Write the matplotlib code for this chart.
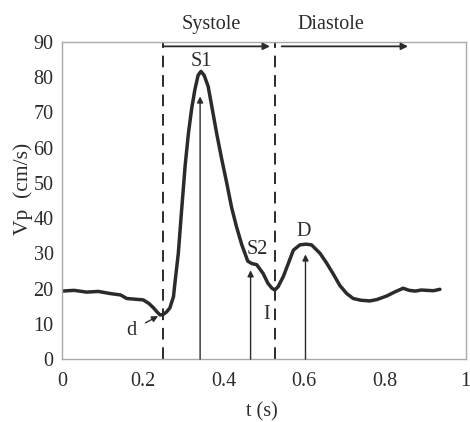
import matplotlib
matplotlib.use("Agg")
import matplotlib.pyplot as plt

# velocity curve
t = [0, 0.03, 0.061, 0.09, 0.119, 0.145, 0.16, 0.18, 0.201, 0.215, 0.226, 0.236,
     0.243, 0.251, 0.259, 0.267, 0.276, 0.28, 0.288, 0.296, 0.305, 0.313, 0.321,
     0.329, 0.337, 0.344, 0.352, 0.362, 0.372, 0.383, 0.395, 0.408, 0.42, 0.432,
     0.445, 0.46, 0.47, 0.482, 0.498, 0.51, 0.52, 0.527, 0.535, 0.548, 0.56, 0.573,
     0.589, 0.604, 0.618, 0.639, 0.655, 0.671, 0.688, 0.705, 0.721, 0.74, 0.762,
     0.78, 0.804, 0.825, 0.845, 0.86, 0.875, 0.89, 0.903, 0.92, 0.936]
vp = [19.3, 19.5, 19.0, 19.2, 18.6, 18.2, 17.2, 17.0, 16.8, 15.8, 14.6, 13.3,
      12.5, 12.7, 13.4, 14.5, 17.7, 22, 30, 42, 55, 64, 71,
      76.4, 80.5, 81.6, 80.5, 77.3, 71, 64, 57, 49.9, 43, 37.6,
      32.5, 27.8, 27.1, 26.8, 24.3, 21.5, 20.1, 19.6, 20.5, 23.4, 27, 30.9,
      32.4, 32.6, 32.4, 30, 27.3, 24.3, 20.9, 18.6, 17.2, 16.7, 16.5,
      16.9, 17.9, 19.1, 20.1, 19.5, 19.3, 19.6, 19.5, 19.4, 19.8]

phase_t = [0.251, 0.528]          # systole / diastole borders
peak_names = ["S1", "S2", "D"]
peak_t = [0.342, 0.467, 0.603]
peak_tip = [74.5, 25.2, 29.7]
peak_label = [(0.344, 84.4), (0.484, 31.1), (0.599, 36.3)]

x_ticks = [0, 0.2, 0.4, 0.6, 0.8, 1]
x_tick_labels = ["0", "0.2", "0.4", "0.6", "0.8", "1"]
y_ticks = list(range(0, 91, 10))

plt.rcParams['font.family'] = ['Liberation Serif', 'DejaVu Serif']
fs = 14.5

fig = plt.figure(figsize=(4.7, 4.22), dpi=100)
ax = fig.add_axes([0.132, 0.149, 0.859, 0.752])
ax.set_xlim(0, 1)
ax.set_ylim(0, 90)

ink = "#2b2b2b"
ax.plot(t, vp, color=ink, lw=2.5, solid_capstyle='round')

for x in phase_t:
    ax.plot([x, x], [0, 90], color=ink, lw=1.4, ls=(0, (6, 4)))

arrow = dict(arrowstyle='-|>', color=ink, lw=1.3, mutation_scale=10, shrinkA=0, shrinkB=0)
ax.annotate("", xy=(0.515, 88.7), xytext=(phase_t[0], 88.7), arrowprops=arrow)
ax.annotate("", xy=(0.857, 88.7), xytext=(0.544, 88.7), arrowprops=arrow)
ax.text(0.369, 94.8, "Systole", ha='center', va='center', fontsize=fs, color=ink)
ax.text(0.667, 94.8, "Diastole", ha='center', va='center', fontsize=fs, color=ink)

thin = dict(arrowstyle='-|>', color=ink, lw=1.0, mutation_scale=9, shrinkA=0, shrinkB=0)
for name, x, tip, (lx, ly) in zip(peak_names, peak_t, peak_tip, peak_label):
    ax.annotate("", xy=(x, tip), xytext=(x, 0), arrowprops=thin)
    ax.text(lx, ly, name, ha='center', va='center', fontsize=fs, color=ink)

ax.text(0.507, 12.7, "I", ha='center', va='center', fontsize=fs, color=ink)
ax.annotate("d", xy=(0.238, 12.2), xytext=(0.172, 8.2), ha='center', va='center',
            fontsize=fs, color=ink, arrowprops=dict(arrowstyle='-|>', color=ink, lw=1.0,
                                                    mutation_scale=9, shrinkA=5, shrinkB=0))

ax.set_xticks(x_ticks)
ax.set_xticklabels(x_tick_labels)
ax.set_yticks(y_ticks)
ax.tick_params(length=0, labelsize=fs, colors=ink)
ax.tick_params(axis='x', pad=9)
ax.tick_params(axis='y', pad=6)
for s in ax.spines.values():
    s.set_color("#aaaaaa")
    s.set_linewidth(1.0)

fig.text(262 / 470, 1 - 412 / 422, "t (s)", ha='center', va='center', fontsize=fs, color=ink)
fig.text(23 / 470, 1 - 189 / 422, "Vp  (cm/s)", ha='center', va='center', rotation=90,
         fontsize=fs + 1, color=ink)

fig.savefig("out.png", dpi=100)
